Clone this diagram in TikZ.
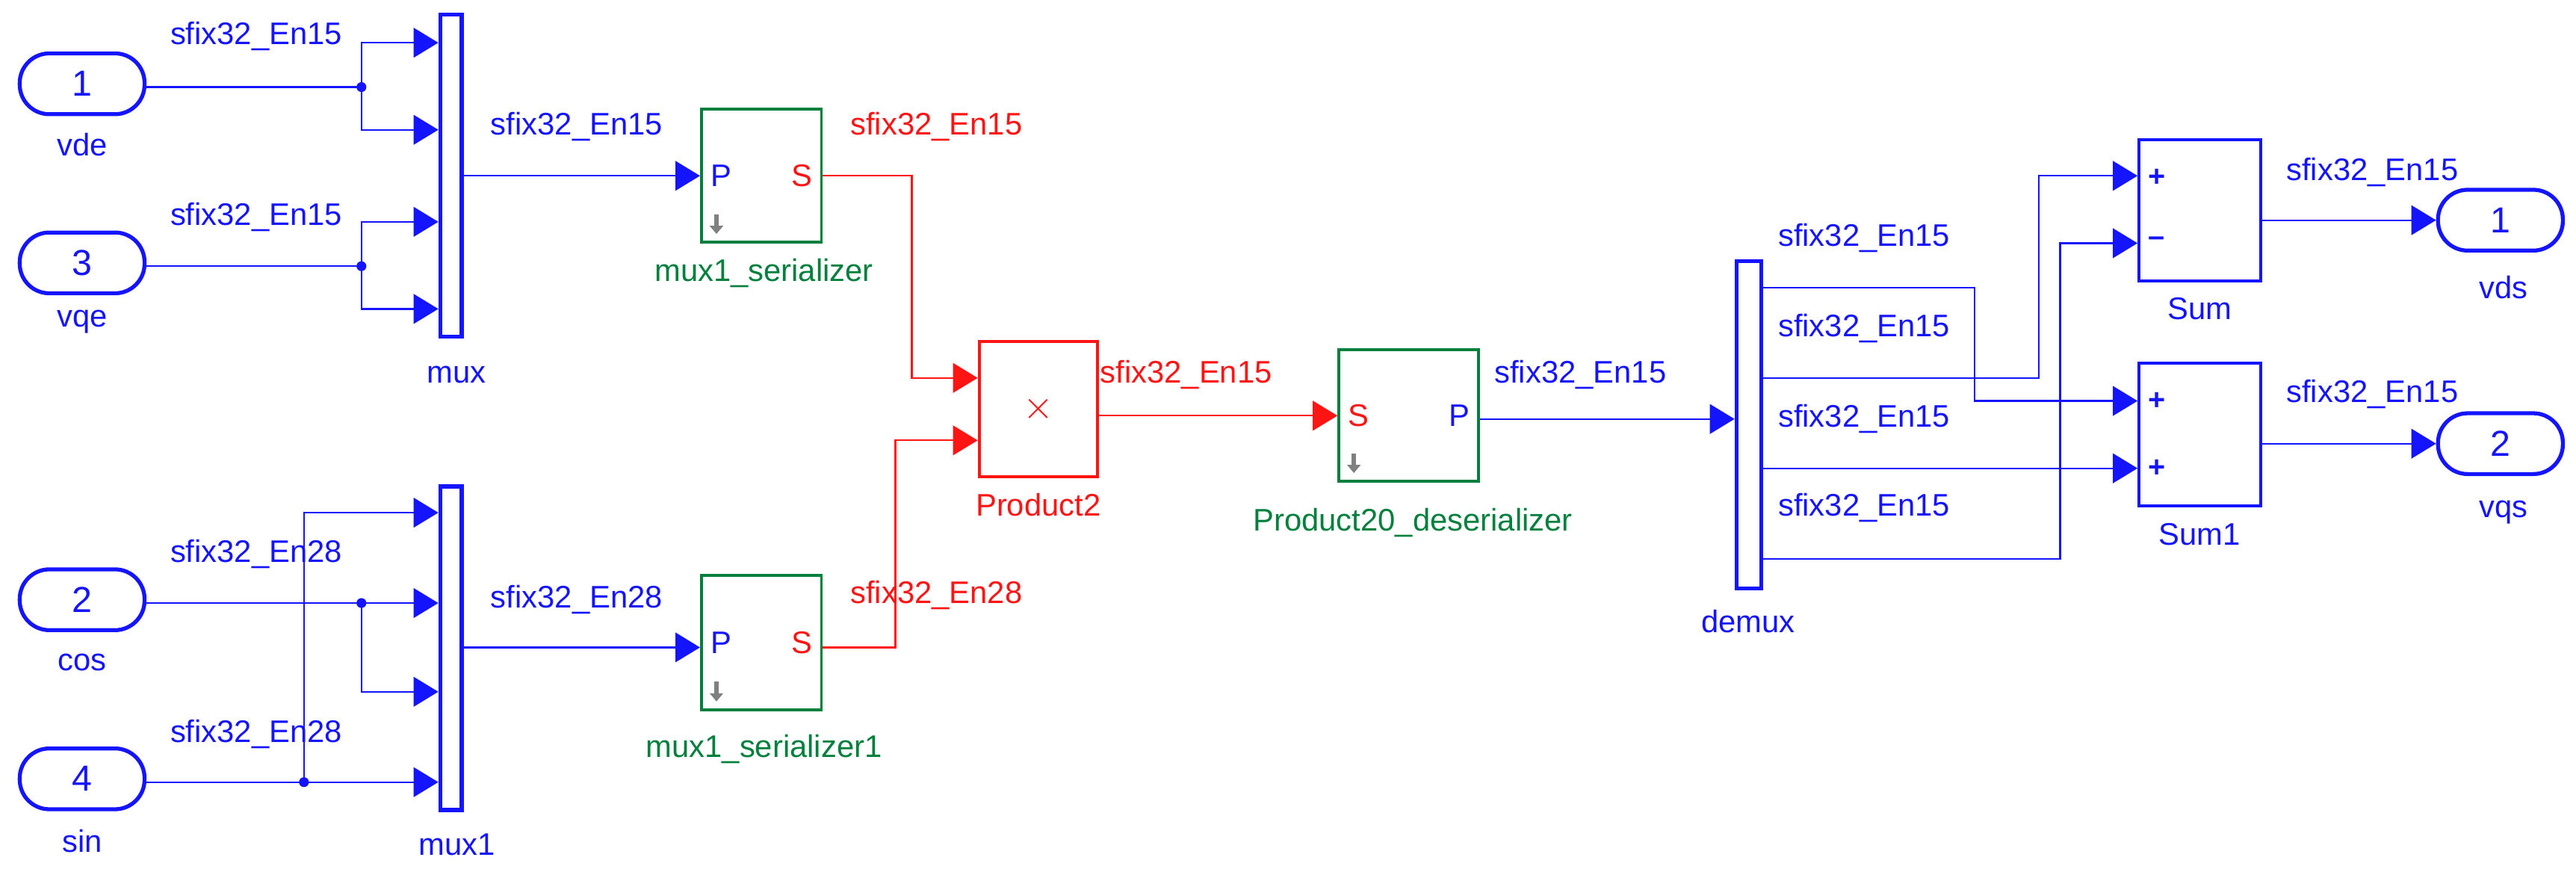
\documentclass[tikz,border=0pt]{standalone}
\usepackage{fontspec}
\setmainfont{Liberation Sans}
\usetikzlibrary{arrows.meta}
\definecolor{sb}{RGB}{20,20,255}
\definecolor{sg}{RGB}{0,128,60}
\definecolor{sr}{RGB}{255,20,20}
\begin{document}
\begin{tikzpicture}[x=0.5pt,y=-0.5pt,
  w/.style={sb,line width=0.5pt},
  wr/.style={sr,line width=0.5pt},
  ar/.style={-{Triangle[length=7.5pt,width=9pt]}},
  port/.style={draw=sb,line width=1.2pt,rounded corners=9pt,minimum width=38pt,minimum height=18.5pt,inner sep=0pt,font=\fontsize{11}{11}\selectfont,text=sb},
  bar/.style={draw=sb,line width=1.2pt,minimum width=6.5pt,inner sep=0pt},
  blk/.style={line width=0.9pt,inner sep=0pt},
  lbl/.style={font=\fontsize{9.5}{10}\selectfont,text=sb,inner sep=0pt},
  dot/.style={circle,fill=sb,inner sep=0pt,minimum size=3pt}]
\useasboundingbox (0,0) rectangle (1568,534);
% inports
\node[port] (in1) at (50,51) {1};
\node[port] (in3) at (50,160) {3};
\node[port] (in2) at (50,365) {2};
\node[port] (in4) at (50,474) {4};
\node[lbl] at (50,88) {vde};
\node[lbl] at (50,196) {vqe};
\node[lbl] at (50,403) {cos};
\node[lbl] at (50,512) {sin};
% muxes
\node[bar,minimum height=98pt] (mux) at (274.5,107) {};
\node[bar,minimum height=98.5pt] (mux1) at (274.5,394.5) {};
\node[lbl] at (278,228) {mux};
\node[lbl] at (278,514) {mux1};
% serializers
\node[blk,draw=sg,minimum width=36.5pt,minimum height=40.5pt] (ser) at (463.5,107) {};
\node[blk,draw=sg,minimum width=36.5pt,minimum height=41pt] (ser1) at (463.5,391) {};
\foreach \n in {ser,ser1}{
  \node[lbl,anchor=west] at ([xshift=3pt]\n.west) {P};
  \node[lbl,anchor=east,text=sr] at ([xshift=-3pt]\n.east) {S};
  \draw[gray,line width=1.3pt,-{Triangle[length=2.5pt,width=4pt]}] ([xshift=5pt,yshift=9pt]\n.south west) -- ([xshift=5pt,yshift=3pt]\n.south west);
}
\node[lbl,text=sg] at (465,166) {mux1\_serializer};
\node[lbl,text=sg] at (465,456) {mux1\_serializer1};
% product
\node[blk,draw=sr,minimum width=36pt,minimum height=41pt,text=sr,font=\fontsize{12}{12}\selectfont] (prod) at (632,249) {$\times$};
\node[lbl,text=sr] at (632,307) {Product2};
% deserializer
\node[blk,draw=sg,minimum width=42.5pt,minimum height=40pt] (des) at (857.5,253) {};
\node[lbl,anchor=west,text=sr] at ([xshift=3pt]des.west) {S};
\node[lbl,anchor=east] at ([xshift=-3pt]des.east) {P};
\draw[gray,line width=1.3pt,-{Triangle[length=2.5pt,width=4pt]}] ([xshift=5pt,yshift=9pt]des.south west) -- ([xshift=5pt,yshift=3pt]des.south west);
\node[lbl,text=sg] at (860,318) {Product20\_deserializer};
% demux
\node[bar,minimum width=7.5pt,minimum height=99.5pt] (demux) at (1064.5,258.5) {};
\node[lbl] at (1064,378) {demux};
% sums
\node[blk,draw=sb,minimum width=37pt,minimum height=43pt] (sum) at (1339,128) {};
\node[blk,draw=sb,minimum width=37pt,minimum height=43.5pt] (sum1) at (1339,264.5) {};
\node[lbl,font=\bfseries\fontsize{9}{9}\selectfont,anchor=west] at ([xshift=3pt]sum.west|-0,108) {+};
\node[lbl,font=\bfseries\fontsize{9}{9}\selectfont,anchor=west] at ([xshift=3pt]sum.west|-0,147) {\textendash};
\node[lbl,font=\bfseries\fontsize{9}{9}\selectfont,anchor=west] at ([xshift=3pt]sum1.west|-0,244) {+};
\node[lbl,font=\bfseries\fontsize{9}{9}\selectfont,anchor=west] at ([xshift=3pt]sum1.west|-0,285) {+};
\node[lbl] at (1339,188) {Sum};
\node[lbl] at (1339,325) {Sum1};
% outports
\node[port] (vds) at (1522,134) {1};
\node[port] (vqs) at (1522,270) {2};
\node[lbl] at (1524,175) {vds};
\node[lbl] at (1524,312) {vqs};
% wiring left top
\coordinate (b1) at (220,53);
\coordinate (b3) at (220,162);
\coordinate (b2) at (220,367);
\coordinate (b4) at (185,476);
\draw[w] (in1.east|-b1) -- (b1);
\draw[w,ar] (b1) |- (mux.west|-0,26);
\draw[w,ar] (b1) |- (mux.west|-0,79);
\draw[w] (in3.east|-b3) -- (b3);
\draw[w,ar] (b3) |- (mux.west|-0,135);
\draw[w,ar] (b3) |- (mux.west|-0,188);
\draw[w] (in2.east|-b2) -- (b2);
\draw[w,ar] (b2) -- (mux1.west|-b2);
\draw[w,ar] (b2) |- (mux1.west|-0,421);
\draw[w] (in4.east|-b4) -- (b4);
\draw[w,ar] (b4) -- (mux1.west|-b4);
\draw[w,ar] (b4) |- (mux1.west|-0,312);
\node[dot] at (b1) {};\node[dot] at (b3) {};\node[dot] at (b2) {};\node[dot] at (b4) {};
\node[lbl] at (156,22) {sfix32\_En15};
\node[lbl] at (156,132) {sfix32\_En15};
\node[lbl] at (156,337) {sfix32\_En28};
\node[lbl] at (156,447) {sfix32\_En28};
\draw[w,ar] (mux.east|-ser.west) -- (ser.west);
\draw[w,ar] (mux1.east|-0,394) -- (ser1.west|-0,394);
\node[lbl] at (351,77) {sfix32\_En15};
\node[lbl] at (351,365) {sfix32\_En28};
% red wiring
\draw[wr,ar] (ser.east) -| (555,230) -- (prod.west|-0,230);
\draw[wr,ar] (ser1.east|-0,394) -| (545,268) -- (prod.west|-0,268);
\node[lbl,text=sr] at (570,77) {sfix32\_En15};
\node[lbl,text=sr] at (570,362) {sfix32\_En28};
\draw[wr,ar] (prod.east|-0,253) -- (des.west|-0,253);
\node[lbl,text=sr] at (722,228) {sfix32\_En15};
\draw[w,ar] (des.east|-0,255) -- (demux.west|-0,255);
\node[lbl] at (962,228) {sfix32\_En15};
% demux outputs
\draw[w,ar] (demux.east|-0,175) -| (1202,244) -- (sum1.west|-0,244);
\draw[w,ar] (demux.east|-0,230) -| (1241,107) -- (sum.west|-0,107);
\draw[w,ar] (demux.east|-0,285) -- (sum1.west|-0,285);
\draw[w,ar] (demux.east|-0,340) -| (1254,148) -- (sum.west|-0,148);
\node[lbl,anchor=west] at (1082,145) {sfix32\_En15};
\node[lbl,anchor=west] at (1082,200) {sfix32\_En15};
\node[lbl,anchor=west] at (1082,255) {sfix32\_En15};
\node[lbl,anchor=west] at (1082,309) {sfix32\_En15};
% sum outputs
\draw[w,ar] (sum.east|-vds) -- (vds.west);
\draw[w,ar] (sum1.east|-vqs) -- (vqs.west);
\node[lbl] at (1444,105) {sfix32\_En15};
\node[lbl] at (1444,240) {sfix32\_En15};
\end{tikzpicture}
\end{document}
